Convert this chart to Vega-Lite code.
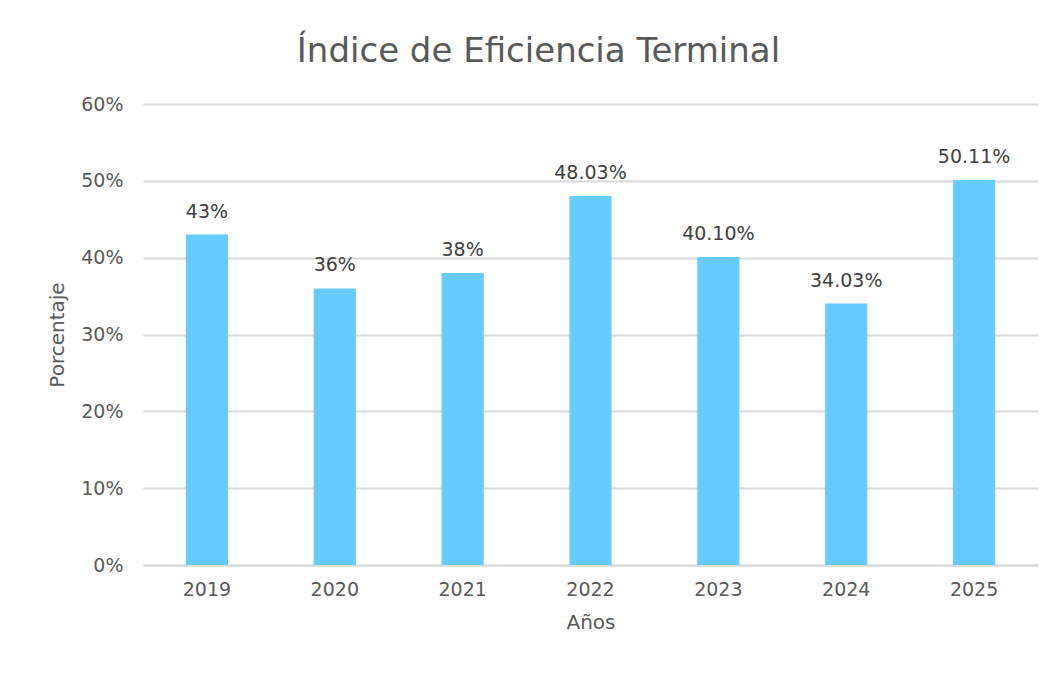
{
  "$schema": "https://vega.github.io/schema/vega-lite/v6.json",
  "autosize": {"type": "none"},
  "width": 895,
  "height": 461,
  "padding": {"left": 143, "top": 104, "right": 16, "bottom": 110},
  "background": "white",
  "title": {
    "text": "Índice de Eficiencia Terminal",
    "font": "DejaVu Sans",
    "fontSize": 34,
    "fontWeight": "normal",
    "color": "#595959",
    "anchor": "middle",
    "baseline": "alphabetic",
    "offset": -1,
    "dx": -52
  },
  "data": {
    "values": [
      {"year": "2019", "value": 0.43, "label": "43%"},
      {"year": "2020", "value": 0.36, "label": "36%"},
      {"year": "2021", "value": 0.38, "label": "38%"},
      {"year": "2022", "value": 0.4803, "label": "48.03%"},
      {"year": "2023", "value": 0.401, "label": "40.10%"},
      {"year": "2024", "value": 0.3403, "label": "34.03%"},
      {"year": "2025", "value": 0.5011, "label": "50.11%"}
    ]
  },
  "encoding": {
    "x": {
      "field": "year",
      "type": "nominal",
      "sort": null,
      "scale": {"paddingInner": 0.67, "paddingOuter": 0.335},
      "axis": {
        "title": "Años",
        "labelAngle": 0,
        "domain": true,
        "domainColor": "#D9D9D9",
        "domainWidth": 2,
        "ticks": false,
        "labelPadding": 15,
        "titlePadding": 13,
        "labelFont": "DejaVu Sans",
        "labelFontSize": 19,
        "labelColor": "#595959",
        "titleFont": "DejaVu Sans",
        "titleFontSize": 20,
        "titleFontWeight": "normal",
        "titleColor": "#595959"
      }
    },
    "y": {
      "field": "value",
      "type": "quantitative",
      "scale": {"domain": [0, 0.6], "nice": false},
      "axis": {
        "title": "Porcentaje",
        "format": ".0%",
        "values": [0, 0.1, 0.2, 0.3, 0.4, 0.5, 0.6],
        "labelOverlap": false,
        "domain": false,
        "ticks": false,
        "grid": true,
        "gridColor": "#D9D9D9",
        "gridWidth": 2,
        "labelPadding": 20,
        "titlePadding": 13,
        "labelFont": "DejaVu Sans",
        "labelFontSize": 19,
        "labelColor": "#595959",
        "titleFont": "DejaVu Sans",
        "titleFontSize": 20,
        "titleFontWeight": "normal",
        "titleColor": "#595959"
      }
    }
  },
  "layer": [
    {"mark": {"type": "bar", "color": "#66CCFF"}},
    {
      "mark": {
        "type": "text",
        "baseline": "bottom",
        "dy": -13,
        "font": "DejaVu Sans",
        "fontSize": 19,
        "color": "#404040"
      },
      "encoding": {"text": {"field": "label"}}
    }
  ],
  "config": {"view": {"stroke": null}}
}
